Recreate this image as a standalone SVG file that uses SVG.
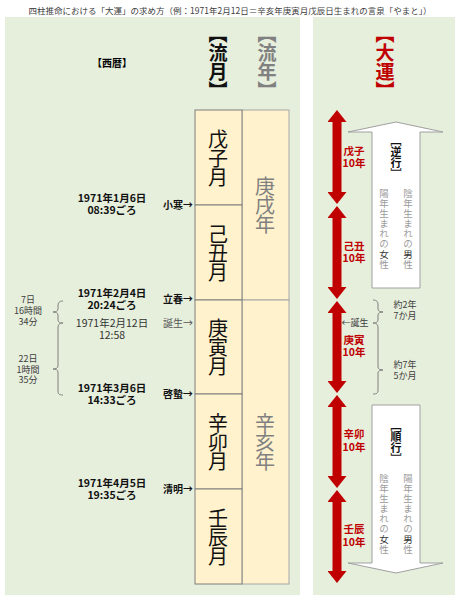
<svg xmlns="http://www.w3.org/2000/svg" width="460" height="600" viewBox="0 0 460 600">
<style>
text{font-family:"Noto Sans CJK JP","Noto Sans",sans-serif;}
.title{font-size:8.5px;fill:#404040;}
.panel{fill:#E6EEDC;}
.mbox{fill:#FFF2CC;stroke:#7F7F7F;stroke-width:1;}
.ybox{fill:#FFF2CC;stroke:#A6A6A6;stroke-width:1;}
.vt{writing-mode:vertical-rl;text-anchor:middle;}
.hdr{font-size:19px;font-weight:bold;}
.month{font-size:20px;fill:#111;letter-spacing:-1px;}
.year{font-size:20px;fill:#808080;letter-spacing:-1px;}
.date{font-size:10.5px;font-weight:bold;fill:#111;text-anchor:middle;}
.dateN{font-size:10.5px;fill:#333;text-anchor:middle;}
.term{font-size:10px;font-weight:bold;fill:#111;text-anchor:end;}
.termN{font-size:10px;fill:#555;text-anchor:end;}
.note{font-size:9px;fill:#404040;text-anchor:middle;}
.brace{fill:none;stroke:#808080;stroke-width:1;}
.dl{font-size:10.5px;font-weight:bold;fill:#C00000;text-anchor:middle;}
.red{stroke:#C00000;stroke-width:9;fill:none;marker-start:url(#rh);marker-end:url(#rh);}
.big{fill:#FFFFFF;stroke:#A0A0A0;stroke-width:1;}
.dir{font-size:11px;font-weight:bold;fill:#111;}
.col{font-size:9.5px;fill:#9A9A9A;letter-spacing:0.6px;}
.em{fill:#333;}
</style>
<defs>
<marker id="rh" viewBox="0 0 12 19" refX="0" refY="9.5" markerWidth="12" markerHeight="19" markerUnits="userSpaceOnUse" orient="auto-start-reverse">
<path d="M0,0 L12,9.5 L0,19 Z" fill="#C00000"/>
</marker>
</defs>

<text class="title" x="230" y="14" text-anchor="middle">四柱推命における「大運」の求め方（例：1971年2月12日＝辛亥年庚寅月戊辰日生まれの言泉「やまと」）</text>

<g id="panels">
<rect class="panel" x="5" y="17" width="295" height="578"/>
<rect class="panel" x="313" y="17" width="142" height="578"/>
</g>

<g id="headers">
<text class="hdr" x="112" y="67" text-anchor="middle" style="font-size:10px">【西暦】</text>
<text class="vt hdr" x="218" y="62" fill="#111">【流月】</text>
<text class="vt hdr" x="267" y="62" fill="#808080">【流年】</text>
<text class="vt hdr" x="385" y="62" fill="#C00000">【大運】</text>
</g>

<g id="year-kanoe-inu">
<rect class="ybox" x="242" y="110" width="47" height="190"/>
<text class="vt year" x="265" y="205">庚戌年</text>
</g>
<g id="year-kanoto-i">
<rect class="ybox" x="242" y="300" width="47" height="284"/>
<text class="vt year" x="265" y="442">辛亥年</text>
</g>

<g id="month-boshi">
<rect class="mbox" x="195" y="110" width="47" height="95"/>
<text class="vt month" x="218" y="158">戊子月</text>
</g>
<g id="month-kichu">
<rect class="mbox" x="195" y="205" width="47" height="95"/>
<text class="vt month" x="218" y="253">己丑月</text>
</g>
<g id="month-koin">
<rect class="mbox" x="195" y="300" width="47" height="94"/>
<text class="vt month" x="218" y="347">庚寅月</text>
</g>
<g id="month-shinbo">
<rect class="mbox" x="195" y="394" width="47" height="95"/>
<text class="vt month" x="218" y="442">辛卯月</text>
</g>
<g id="month-jinshin">
<rect class="mbox" x="195" y="489" width="47" height="95"/>
<text class="vt month" x="218" y="537">壬辰月</text>
</g>

<g id="dates">
<text class="date" x="112" y="201.5">1971年1月6日<tspan x="112" dy="12.5">08:39ごろ</tspan></text>
<text class="term" x="193" y="209">小寒→</text>

<text class="date" x="112" y="296.5">1971年2月4日<tspan x="112" dy="12.5">20:24ごろ</tspan></text>
<text class="term" x="193" y="303">立春→</text>

<text class="dateN" x="112" y="326.5">1971年2月12日<tspan x="112" dy="12">12:58</tspan></text>
<text class="termN" x="193" y="327">誕生→</text>

<text class="date" x="112" y="391.5">1971年3月6日<tspan x="112" dy="12.5">14:33ごろ</tspan></text>
<text class="term" x="193" y="398">啓蟄→</text>

<text class="date" x="112" y="486.5">1971年4月5日<tspan x="112" dy="12.5">19:35ごろ</tspan></text>
<text class="term" x="193" y="493">清明→</text>
</g>

<g id="left-intervals">
<path class="brace" d="M63,301 C59,301 58,303 58,306 L58,309 C58,311 56,312 53,312 C56,312 58,313 58,315 L58,319 C58,322 59,323 63,323"/>
<path class="brace" d="M63,323 C59,323 58,325 58,328 L58,366 C58,368 56,369 53,369 C56,369 58,370 58,372 L58,391 C58,394 59,395 63,395"/>
<text class="note" x="28" y="303">7日<tspan x="28" dy="11">16時間</tspan><tspan x="28" dy="11">34分</tspan></text>
<text class="note" x="28" y="362">22日<tspan x="28" dy="10.5">1時間</tspan><tspan x="28" dy="10.5">35分</tspan></text>
</g>

<g id="connectors">
<line class="red" x1="337" y1="122" x2="337" y2="192"/>
<line class="red" x1="337" y1="218" x2="337" y2="287"/>
<line class="red" x1="337" y1="313" x2="337" y2="381"/>
<line class="red" x1="337" y1="407" x2="337" y2="476"/>
<line class="red" x1="337" y1="502" x2="337" y2="571"/>
</g>

<g id="daiun-boshi"><text class="dl" x="354" y="155">戊子<tspan x="354" dy="12">10年</tspan></text></g>
<g id="daiun-kichu"><text class="dl" x="354" y="250">己丑<tspan x="354" dy="12">10年</tspan></text></g>
<g id="daiun-koin"><text class="dl" x="354" y="344">庚寅<tspan x="354" dy="12">10年</tspan></text></g>
<g id="daiun-shinbo"><text class="dl" x="354" y="438">辛卯<tspan x="354" dy="12.5">10年</tspan></text></g>
<g id="daiun-jinshin"><text class="dl" x="354" y="533">壬辰<tspan x="354" dy="12.5">10年</tspan></text></g>

<g id="right-intervals">
<path class="brace" d="M373,300 C377,300 378,302 378,305 L378,309 C378,311 380,312 383,312 C380,312 378,313 378,315 L378,319 C378,322 377,323 373,323"/>
<path class="brace" d="M373,323 C377,323 378,325 378,328 L378,367 C378,369 380,370 383,370 C380,370 378,371 378,373 L378,390 C378,393 377,394 373,394"/>
<text class="note" x="355" y="326">←誕生</text>
<text class="note" x="405" y="307.5">約2年<tspan x="405" dy="11">7か月</tspan></text>
<text class="note" x="405" y="367.5">約7年<tspan x="405" dy="11">5か月</tspan></text>
</g>

<g id="reverse-arrow">
<polygon class="big" points="396,122 443,132 420,132 420,288 372,288 372,132 348,132"/>
<text class="vt dir" x="396" y="157">［逆行］</text>
<text class="vt col" x="408" y="229">陰年生まれの<tspan class="em">男</tspan>性</text>
<text class="vt col" x="384" y="229">陽年生まれの<tspan class="em">女</tspan>性</text>
</g>

<g id="forward-arrow">
<polygon class="big" points="372,405 420,405 420,563 443,563 396,573 348,563 372,563"/>
<text class="vt dir" x="396" y="442">［順行］</text>
<text class="vt col" x="408" y="514">陽年生まれの<tspan class="em">男</tspan>性</text>
<text class="vt col" x="384" y="514">陰年生まれの<tspan class="em">女</tspan>性</text>
</g>
</svg>
